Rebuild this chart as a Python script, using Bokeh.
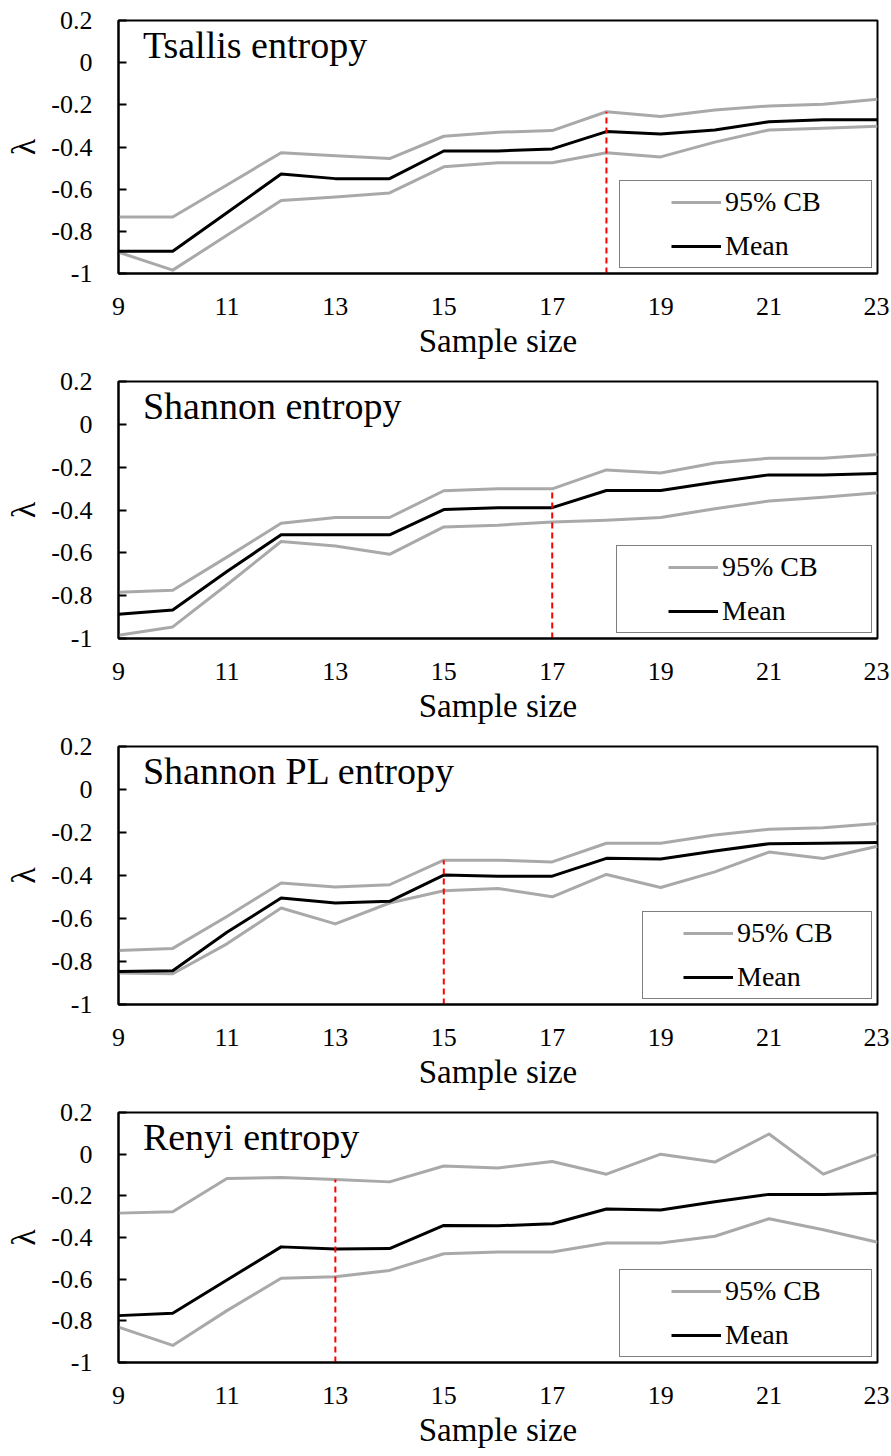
import numpy as np
from bokeh.plotting import figure
from bokeh.layouts import column
from bokeh.models import Range1d, FixedTicker, Legend, LegendItem, Label, ColumnDataSource
from bokeh.embed import file_html
from bokeh.resources import INLINE

# ---------------- data ----------------
sample_size = [9, 10, 11, 12, 13, 14, 15, 16, 17, 18, 19, 20, 21, 22, 23]
x_ticks = [9, 11, 13, 15, 17, 19, 21, 23]
y_ticks = [-1, -0.8, -0.6, -0.4, -0.2, 0, 0.2]
y_tick_labels = ["-1", "-0.8", "-0.6", "-0.4", "-0.2", "0", "0.2"]

panel_titles = ["Tsallis entropy", "Shannon entropy", "Shannon PL entropy", "Renyi entropy"]

tsallis_upper = [-0.732, -0.732, -0.58, -0.427, -0.442, -0.455, -0.349, -0.33, -0.322,
                 -0.233, -0.255, -0.224, -0.205, -0.197, -0.174]
tsallis_mean = [-0.894, -0.894, -0.712, -0.528, -0.55, -0.55, -0.419, -0.419, -0.409,
                -0.327, -0.338, -0.319, -0.28, -0.271, -0.271]
tsallis_lower = [-0.899, -0.984, -0.819, -0.654, -0.637, -0.618, -0.494, -0.475, -0.475,
                 -0.427, -0.447, -0.377, -0.319, -0.311, -0.302]

shannon_upper = [-0.784, -0.775, -0.62, -0.462, -0.435, -0.435, -0.31, -0.301, -0.301,
                 -0.213, -0.227, -0.181, -0.158, -0.158, -0.141]
shannon_mean = [-0.887, -0.867, -0.687, -0.516, -0.516, -0.516, -0.398, -0.389, -0.389,
                -0.309, -0.309, -0.27, -0.236, -0.236, -0.229]
shannon_lower = [-0.985, -0.946, -0.749, -0.547, -0.568, -0.607, -0.479, -0.471, -0.456,
                 -0.448, -0.435, -0.394, -0.358, -0.34, -0.32]

shannon_pl_upper = [-0.749, -0.739, -0.591, -0.435, -0.454, -0.443, -0.329, -0.329, -0.337,
                    -0.25, -0.25, -0.212, -0.185, -0.178, -0.158]
shannon_pl_mean = [-0.846, -0.843, -0.664, -0.505, -0.528, -0.52, -0.398, -0.403, -0.403,
                   -0.32, -0.323, -0.286, -0.252, -0.25, -0.247]
shannon_pl_lower = [-0.853, -0.857, -0.718, -0.551, -0.625, -0.528, -0.471, -0.46, -0.499,
                    -0.395, -0.456, -0.383, -0.291, -0.321, -0.264]

renyi_upper = [-0.283, -0.276, -0.117, -0.112, -0.122, -0.133, -0.057, -0.066, -0.035,
               -0.096, 0.0, -0.038, 0.097, -0.096, 0.0]
renyi_mean = [-0.775, -0.764, -0.604, -0.445, -0.455, -0.453, -0.342, -0.344, -0.334,
              -0.263, -0.268, -0.228, -0.193, -0.193, -0.188]
renyi_lower = [-0.83, -0.918, -0.751, -0.596, -0.588, -0.558, -0.478, -0.47, -0.47,
               -0.426, -0.426, -0.394, -0.31, -0.363, -0.423]

thresholds = [18, 17, 15, 13]

series = [
    (tsallis_upper, tsallis_mean, tsallis_lower),
    (shannon_upper, shannon_mean, shannon_lower),
    (shannon_pl_upper, shannon_pl_mean, shannon_pl_lower),
    (renyi_upper, renyi_mean, renyi_lower),
]

# ---------------- layout / style ----------------
FONT = "Liberation Serif"
fig_heights = [361, 365, 366, 358]
frame_heights = [257, 260, 260, 252]
legend_label_widths = [141, 144, 129, 141]
legend_glyph_widths = [96, 96, 85, 96]
legend_dashes = ["0 46 50", "0 46 50", "0 35 50", "0 46 50"]
TOP = 20
GRAY = "#a9a9a9"

figs = []
for i in range(4):
    up, mean, low = series[i]
    H = fig_heights[i]
    p = figure(width=889, height=H, output_backend="svg", toolbar_location=None,
               x_range=Range1d(9, 23), y_range=Range1d(-1, 0.2),
               min_border_left=118, min_border_right=12,
               min_border_top=TOP,
               min_border_bottom=H - TOP - frame_heights[i])
    p.outline_line_color = "black"
    p.outline_line_width = 2
    p.xgrid.grid_line_color = None
    p.ygrid.grid_line_color = None
    p.background_fill_color = "white"
    p.border_fill_color = "white"

    # x axis
    xa = p.xaxis[0]
    xa.ticker = FixedTicker(ticks=x_ticks)
    xa.major_tick_in = 0
    xa.major_tick_out = 0
    xa.minor_tick_line_color = None
    xa.axis_line_color = "black"
    xa.axis_line_width = 2
    xa.major_label_text_font = FONT
    xa.major_label_text_font_size = "26px"
    xa.major_label_text_color = "black"
    xa.major_label_standoff = 24
    xa.axis_label = "Sample size"
    xa.axis_label_text_font = FONT
    xa.axis_label_text_font_size = "33px"
    xa.axis_label_text_font_style = "normal"
    xa.axis_label_text_color = "black"
    xa.axis_label_standoff = 5

    # y axis
    ya = p.yaxis[0]
    ya.ticker = FixedTicker(ticks=y_ticks)
    ya.major_label_overrides = {t: s for t, s in zip(y_ticks, y_tick_labels)}
    ya.major_tick_in = 8
    ya.major_tick_out = 0
    ya.major_tick_line_width = 2
    ya.major_tick_line_color = "black"
    ya.minor_tick_line_color = None
    ya.axis_line_color = "black"
    ya.axis_line_width = 2
    ya.major_label_text_font = FONT
    ya.major_label_text_font_size = "26px"
    ya.major_label_text_color = "black"
    ya.major_label_standoff = 26
    ya.axis_label = "λ"
    ya.axis_label_text_font = FONT
    ya.axis_label_text_font_size = "34px"
    ya.axis_label_text_font_style = "normal"
    ya.axis_label_text_color = "black"
    ya.axis_label_standoff = 6

    p.line(sample_size, up, line_color=GRAY, line_width=3, line_join="round")
    p.line(sample_size, low, line_color=GRAY, line_width=3, line_join="round")
    p.line(sample_size, mean, line_color="black", line_width=3, line_join="round")

    thr = thresholds[i]
    top_val = up[sample_size.index(thr)]
    p.segment(x0=[thr], y0=[-1], x1=[thr], y1=[top_val], line_color="#ff0000",
              line_width=2, line_dash="6 4")

    # legend swatch renderers: a single missing value, so nothing is drawn in the plot
    nan_src = ColumnDataSource(data=dict(x=np.array([np.nan]), y=np.array([np.nan])))
    key_cb = p.line("x", "y", source=nan_src, line_color=GRAY, line_width=3,
                    line_dash=legend_dashes[i])
    key_mean = p.line("x", "y", source=nan_src, line_color="black", line_width=3,
                      line_dash=legend_dashes[i])

    p.add_layout(Label(x=9.45, y=0.182, text=panel_titles[i], text_baseline="top",
                       text_font=FONT, text_font_size="38px", text_color="black"))

    legend = Legend(items=[LegendItem(label="95% CB", renderers=[key_cb]),
                           LegendItem(label="Mean", renderers=[key_mean])],
                    location="bottom_right")
    legend.border_line_color = "black"
    legend.border_line_width = 1.5
    legend.background_fill_color = "white"
    legend.background_fill_alpha = 1
    legend.label_text_font = FONT
    legend.label_text_font_size = "28px"
    legend.label_text_color = "black"
    legend.glyph_width = legend_glyph_widths[i]
    legend.glyph_height = 30
    legend.label_height = 30
    legend.label_width = legend_label_widths[i]
    legend.label_standoff = 4
    legend.spacing = 12
    legend.padding = 5
    legend.margin = 5
    p.add_layout(legend)

    figs.append(p)

layout = column(*figs, spacing=0)
open("out.html", "w").write(file_html(layout, INLINE))
